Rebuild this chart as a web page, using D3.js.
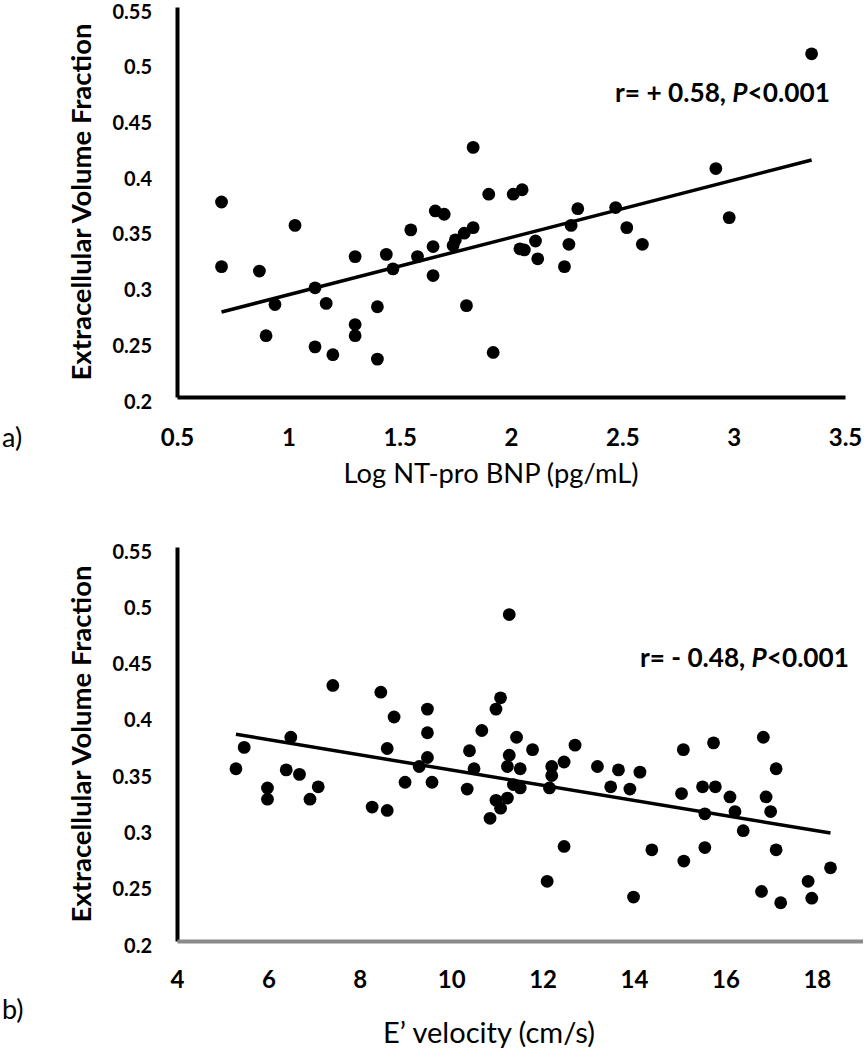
<!DOCTYPE html>
<html>
<head>
<meta charset="utf-8">
<script src="https://cdn.jsdelivr.net/npm/d3@7"></script>
<style>
  html, body { margin: 0; padding: 0; background: #fff; }
  svg { display: block; }
  text { font-family: Lato, "Open Sans", "DejaVu Sans", sans-serif; fill: #000; }
</style>
</head>
<body>
<svg id="chart" width="864" height="1050"></svg>
<script>
// ---------- Panel a data ----------
const bnpLog = [0.70,0.70,0.87,1.03,0.90,0.94,1.12,1.17,1.12,1.20,1.30,1.30,1.30,1.40,1.40,1.44,1.47,1.55,1.58,1.65,1.65,1.66,1.70,1.74,1.75,1.79,1.83,1.83,1.80,1.92,1.90,2.01,2.05,2.30,2.47,2.27,2.52,2.59,2.04,2.06,2.11,2.12,2.26,2.24,3.35,2.92,2.98];
const ecvA   = [0.375,0.317,0.313,0.354,0.255,0.283,0.298,0.284,0.245,0.238,0.326,0.265,0.255,0.281,0.234,0.328,0.315,0.350,0.326,0.335,0.309,0.367,0.364,0.336,0.341,0.347,0.352,0.424,0.282,0.240,0.382,0.382,0.386,0.369,0.370,0.354,0.352,0.337,0.333,0.332,0.340,0.324,0.337,0.317,0.508,0.405,0.361];
const trendA = [0.2402, 0.0515];   // intercept, slope
const xTicksA = [0.5,1,1.5,2,2.5,3,3.5];
const labelA = ["r= + 0.58, ", "P", "<0.001"];
const xTitleA = "Log NT-pro BNP (pg/mL)";

// ---------- Panel b data ----------
const eVelocity = [5.29,5.47,5.98,5.98,6.39,6.49,6.68,6.91,7.09,7.41,8.27,8.60,8.46,8.60,8.75,8.99,9.30,9.48,9.48,9.48,9.58,10.35,10.40,10.50,10.67,10.85,10.98,11.08,11.23,10.98,11.08,11.27,11.27,11.23,11.43,11.51,11.78,11.36,11.51,12.20,12.20,12.15,12.47,12.71,12.47,12.10,13.20,13.66,13.49,13.91,14.13,14.39,13.99,15.08,15.04,15.09,15.50,15.55,15.55,15.74,15.78,16.10,16.21,16.39,16.83,16.89,16.99,17.11,17.11,16.79,17.21,17.81,17.89,18.30];
const ecvB      = [0.353,0.372,0.336,0.326,0.352,0.381,0.348,0.326,0.337,0.427,0.319,0.316,0.421,0.371,0.399,0.341,0.355,0.406,0.385,0.363,0.341,0.335,0.369,0.353,0.387,0.309,0.325,0.318,0.327,0.406,0.416,0.490,0.365,0.355,0.381,0.353,0.370,0.339,0.336,0.355,0.347,0.336,0.359,0.374,0.284,0.253,0.355,0.352,0.337,0.335,0.350,0.281,0.239,0.370,0.331,0.271,0.337,0.313,0.283,0.376,0.337,0.328,0.315,0.298,0.381,0.328,0.315,0.353,0.281,0.244,0.234,0.253,0.238,0.265];
const trendB = [0.4194, -0.00675];
const xTicksB = [4,6,8,10,12,14,16,18];
const labelB = ["r= - 0.48, ", "P", "<0.001"];
const xTitleB = "E\u2019 velocity (cm/s)";

// ---------- shared ----------
const yTicks = [0.2,0.25,0.3,0.35,0.4,0.45,0.5,0.55];
const yTitle = "Extracellular Volume Fraction";

const svg = d3.select("#chart");

function fitText(sel, target) {
  const base = 20;
  sel.style("font-size", base + "px");
  const L = sel.node().getComputedTextLength();
  sel.style("font-size", (base * target / L) + "px");
}

function panel(cfg) {
  const x = d3.scaleLinear().domain(cfg.xDomain).range(cfg.xRange);
  const y = d3.scaleLinear().domain([0.2, 0.55]).range(cfg.yRange);
  const g = svg.append("g");

  // y axis
  const ya = g.append("g").attr("transform", `translate(${cfg.xRange[0]},0)`)
    .call(d3.axisLeft(y).tickValues(yTicks).tickSize(0).tickPadding(25)
      .tickFormat(d => String(+d.toFixed(2))));
  ya.select(".domain").attr("stroke", "#000").attr("stroke-width", 4);
  ya.selectAll("text").attr("dy", "0.55em").style("font-size", "20px").style("font-weight", "700")
    .style("font-family", "Lato, sans-serif");

  // x axis
  const xa = g.append("g").attr("transform", `translate(0,${cfg.yRange[0]})`)
    .call(d3.axisBottom(x).tickValues(cfg.xTicks).tickSize(0).tickPadding(cfg.xPad)
      .tickFormat(d => String(d)));
  xa.select(".domain").attr("stroke", cfg.xAxisColor).attr("stroke-width", 4);
  xa.selectAll("text").style("font-size", "24px").style("font-weight", "700")
    .style("font-family", "Lato, sans-serif");

  // trend line
  const xs = d3.extent(cfg.xs);
  g.append("line")
    .attr("x1", x(xs[0])).attr("y1", y(cfg.trend[0] + cfg.trend[1] * xs[0]))
    .attr("x2", x(xs[1])).attr("y2", y(cfg.trend[0] + cfg.trend[1] * xs[1]))
    .attr("stroke", "#000").attr("stroke-width", 3.5);

  // points
  g.selectAll("circle.pt").data(cfg.xs.map((v, i) => [v, cfg.ys[i]])).enter()
    .append("circle").attr("class", "pt")
    .attr("cx", d => x(d[0])).attr("cy", d => y(d[1])).attr("r", 6.4)
    .attr("fill", "#000");

  // annotation
  const ann = g.append("text").attr("x", cfg.annX).attr("y", cfg.annY)
    .attr("dominant-baseline", "central").style("font-weight", "700");
  ann.append("tspan").text(cfg.label[0]);
  ann.append("tspan").style("font-style", "italic").text(cfg.label[1]);
  ann.append("tspan").text(cfg.label[2]);
  fitText(ann, cfg.annW);

  // y title
  const yt = g.append("text")
    .attr("transform", `translate(${cfg.yTitleX},${(cfg.yRange[0] + cfg.yRange[1]) / 2}) rotate(-90)`)
    .attr("text-anchor", "middle").attr("dominant-baseline", "central")
    .style("font-weight", "700").text(yTitle);
  fitText(yt, 357);

  // x title
  const xt = g.append("text").attr("x", cfg.xTitleX).attr("y", cfg.xTitleY)
    .attr("text-anchor", "middle").attr("dominant-baseline", "central")
    .text(cfg.xTitle);
  fitText(xt, cfg.xTitleW);

  // panel letter
  g.append("text").attr("x", 2).attr("y", cfg.letterY)
    .attr("dominant-baseline", "central").style("font-size", "27px")
    .text(cfg.letter);
}

panel({
  xs: bnpLog, ys: ecvA, trend: trendA, xTicks: xTicksA, label: labelA,
  xDomain: [0.5, 3.5], xRange: [177, 845], yRange: [397, 7],
  xPad: 32, xAxisColor: "#000",
  annX: 615, annY: 92, annW: 215,
  yTitleX: 80, xTitle: xTitleA, xTitleX: 491, xTitleY: 472, xTitleW: 295,
  letter: "a)", letterY: 436
});

panel({
  xs: eVelocity, ys: ecvB, trend: trendB, xTicks: xTicksB, label: labelB,
  xDomain: [4, 19], xRange: [177, 862.5], yRange: [941, 547],
  xPad: 30, xAxisColor: "#8a8a8a",
  annX: 640, annY: 657, annW: 209,
  yTitleX: 80, xTitle: xTitleB, xTitleX: 489, xTitleY: 1031, xTitleW: 212,
  letter: "b)", letterY: 1008
});
</script>
</body>
</html>
